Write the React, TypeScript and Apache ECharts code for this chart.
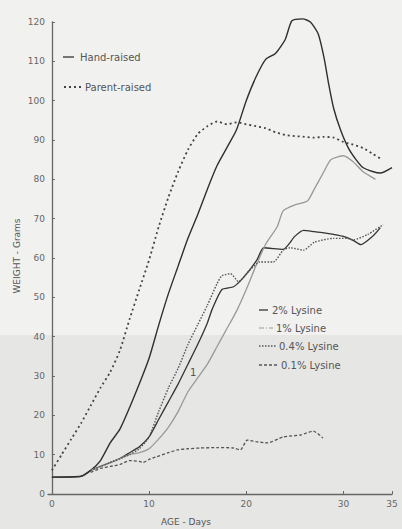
import React, { useEffect, useRef } from "react";
import * as echarts from "echarts";

// ---- data (age in days, weight in grams) ----
const handRaisedDays = [0, 3, 4, 5, 6, 7, 8, 9, 10, 11, 12, 13, 14, 15, 16, 17, 18, 19, 20, 21, 22, 23, 24, 24.7, 25.8, 26.6, 27.4, 28, 28.5, 29, 29.7, 30.5, 31.3, 32, 33, 33.8, 35];
const handRaisedWeight = [4.3, 4.5, 6, 8.5, 13, 16.5, 22, 28, 34.5, 43, 51, 58, 65, 71, 77.5, 83.5, 88, 92.6, 100, 106, 110.5, 112, 115.5, 120.3, 120.8, 120, 117, 111, 104, 98, 92.6, 88, 85, 83, 82, 81.6, 83];

const parentRaisedDays = [0, 1, 2, 3, 4, 5, 6, 7, 8, 9, 10, 11, 12, 13, 14, 15, 16, 17, 18, 19, 20, 21, 22, 23, 24, 25, 26, 27, 28, 29, 30, 31, 32, 33, 34];
const parentRaisedWeight = [6, 10, 14, 18, 22.5, 27, 31, 36.5, 44.5, 52, 59.5, 68, 75.5, 82, 87.5, 91.5, 93.5, 94.7, 94, 94.5, 94, 93.5, 93, 92, 91.3, 91, 90.8, 90.6, 90.8, 90.6, 89.5, 88.8, 88, 86.5, 85];

const lys2Days = [0, 3, 4, 5, 6, 7, 8, 9, 10, 11, 12, 13, 14, 15, 16, 16.5, 17.5, 18.7, 19.7, 21.1, 21.8, 23.8, 25, 25.9, 27, 28, 29, 30, 31, 31.8, 33, 33.8];
const lys2Weight = [4.3, 4.5, 6, 7, 8, 9, 10.5, 12, 14.5, 19, 23.5, 28, 33, 38, 43.5, 47, 52, 52.7, 55, 59.5, 62.6, 62.2, 65.5, 67, 66.7, 66.4, 66, 65.5, 64.5, 63.4, 65.5, 67.7];

const lys1Days = [4, 5, 6, 7, 8, 9, 10, 11, 12, 13, 14, 15, 16, 17, 18, 19, 20, 21, 22, 23.2, 23.8, 25, 26.3, 27, 28, 28.7, 30, 31, 32, 33.3];
const lys1Weight = [6, 7, 8, 9, 10, 10.5, 11.5, 14, 17, 21, 26, 29.5, 33, 37.5, 42, 46.5, 52, 58, 63.5, 68, 72, 73.5, 74.5, 77.5, 82, 85, 86, 84.5, 82, 80];

const lys04Days = [4, 5, 6, 7, 8, 9, 10, 11, 12, 13, 14, 15, 16, 17, 17.5, 18.4, 19.2, 20.4, 21.4, 22.8, 23.8, 24.5, 25.9, 27, 29, 30.4, 31, 32.5, 34.1];
const lys04Weight = [6, 7, 8, 9, 10, 11.5, 14.5, 21, 27, 32, 38, 43, 48, 53.5, 55.5, 56, 54, 57, 59, 59, 62, 62.6, 62, 64, 65, 65, 64.6, 66, 68.5];

const lys01Days = [4, 5, 6, 7, 8, 9, 9.4, 10, 10.8, 12, 12.9, 14, 15.3, 17, 18.7, 19.4, 20.1, 21, 22.2, 23.8, 25.6, 26.9, 27.9];
const lys01Weight = [5.5, 6.5, 7, 7.5, 8.5, 8.3, 8, 8.8, 9.5, 10.5, 11.2, 11.5, 11.7, 11.8, 11.7, 11.2, 13.7, 13.3, 13, 14.5, 15, 16, 14.2];

const xTickValues = [0, 10, 20, 30, 35];

const pairs = (xs: number[], ys: number[]) => xs.map((x, i) => [x, ys[i]]);

const FONT = "DejaVu Sans";
const TXT = "#555";

export default function App() {
  const ref = useRef<HTMLDivElement>(null);
  useEffect(() => {
    if (!ref.current) return;
    const chart = echarts.init(ref.current, undefined, { renderer: "svg" });
    const line = (name: string, xs: number[], ys: number[], color: string, width: number, type: any) => ({
      name,
      type: "line",
      data: pairs(xs, ys),
      showSymbol: false,
      smooth: 0.2,
      clip: false,
      lineStyle: { color, width, type },
      z: 3,
    });
    const legendLine = (x1: number, x2: number, y: number, color: string, width: number, dash: any) => ({
      type: "line",
      shape: { x1, y1: y, x2, y2: y },
      style: { stroke: color, lineWidth: width, lineDash: dash },
      z: 5,
    });
    const legendText = (x: number, y: number, text: string) => ({
      type: "text",
      x,
      y,
      style: { text, fill: TXT, font: `10px "${FONT}"`, verticalAlign: "middle" },
      z: 5,
    });
    chart.setOption({
      animation: false,
      backgroundColor: "#f1f1f0",
      grid: { left: 48, right: 10, top: 22, bottom: 35, containLabel: false },
      xAxis: {
        type: "value",
        min: -0.4,
        max: 35,
        axisLine: { show: true, lineStyle: { color: "#666", width: 1.3 } },
        axisTick: { show: true, inside: true, length: 3, customValues: xTickValues, lineStyle: { color: "#666" } },
        axisLabel: { customValues: xTickValues, color: "#666", fontFamily: FONT, fontSize: 9, margin: 5 },
        splitLine: { show: false },
      },
      yAxis: {
        type: "value",
        min: 0,
        max: 120,
        interval: 10,
        axisLine: { show: true, lineStyle: { color: "#666", width: 1.3 } },
        axisTick: { show: true, inside: true, length: 3, lineStyle: { color: "#666" } },
        axisLabel: { color: "#666", fontFamily: FONT, fontSize: 9, margin: 3 },
        splitLine: { show: false },
      },
      graphic: [
        { type: "rect", shape: { x: 0, y: 335, width: 402, height: 194 }, style: { fill: "#e6e6e5" }, z: -10, silent: true },
        legendLine(63, 74, 57, "#333", 1.3, "solid"),
        legendText(80, 57, "Hand-raised"),
        legendLine(64, 82, 87, "#444", 1.8, [2, 3]),
        legendText(85, 87, "Parent-raised"),
        legendLine(259, 268, 310, "#333", 1.3, "solid"),
        legendText(272, 310, "2% Lysine"),
        legendLine(259, 273, 328, "#999", 1.2, [5, 2, 1, 2]),
        legendText(276, 328, "1% Lysine"),
        legendLine(259, 276, 346, "#555", 1.4, [1.5, 1.5]),
        legendText(279, 346, "0.4% Lysine"),
        legendLine(259, 279, 365, "#555", 1.3, [3, 2]),
        legendText(281, 365, "0.1% Lysine"),
        legendText(190, 372, "1"),
        {
          type: "text",
          x: 17,
          y: 256,
          rotation: Math.PI / 2,
          style: { text: "WEIGHT - Grams", fill: TXT, font: `9px "${FONT}"`, align: "center", verticalAlign: "middle" },
        },
        {
          type: "text",
          x: 186,
          y: 522,
          style: { text: "AGE - Days", fill: TXT, font: `9px "${FONT}"`, align: "center", verticalAlign: "middle" },
        },
      ],
      series: [
        line("Hand-raised", handRaisedDays, handRaisedWeight, "#2f2f2f", 1.4, "solid"),
        line("Parent-raised", parentRaisedDays, parentRaisedWeight, "#444", 1.8, [2, 3]),
        line("2% Lysine", lys2Days, lys2Weight, "#333", 1.3, "solid"),
        line("1% Lysine", lys1Days, lys1Weight, "#999", 1.3, "solid"),
        line("0.4% Lysine", lys04Days, lys04Weight, "#555", 1.4, [1.5, 1.5]),
        line("0.1% Lysine", lys01Days, lys01Weight, "#555", 1.3, [3, 2]),
      ],
    });
    return () => chart.dispose();
  }, []);
  return <div ref={ref} style={{ position: "absolute", left: 0, top: 0, width: 402, height: 529 }} />;
}
